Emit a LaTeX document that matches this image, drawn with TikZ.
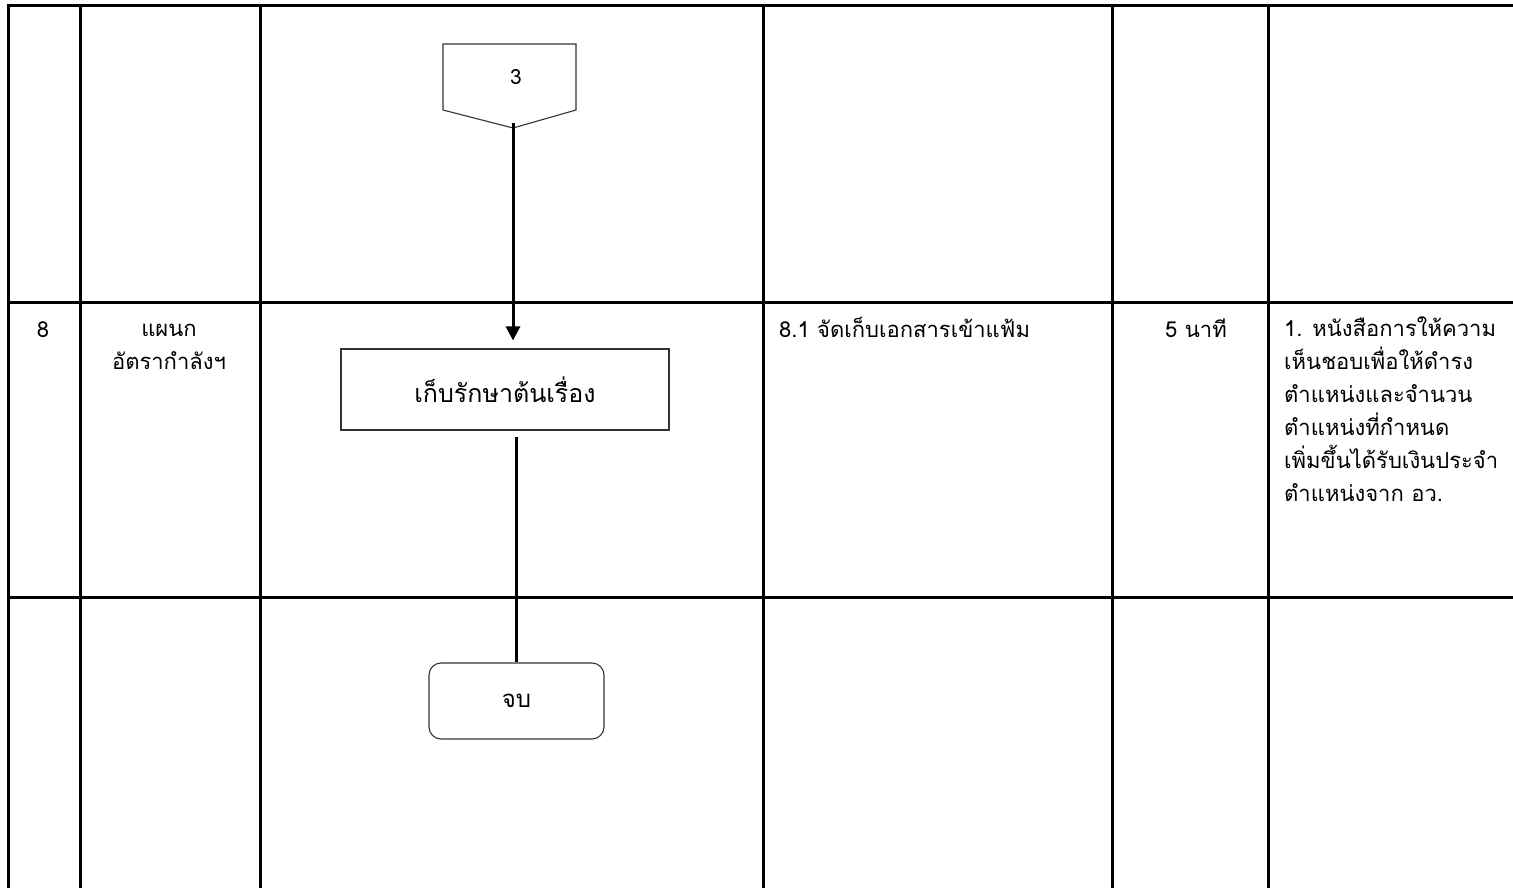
\documentclass[tikz,border=0pt]{standalone}
\usepackage{fontspec}
\newfontfamily\thaifont[Script=Thai]{Loma}
\usetikzlibrary{arrows.meta}
\newcommand{\firststrut}{\rule{0pt}{22pt}}
\begin{document}
\begin{tikzpicture}[x=1pt,y=-1pt,
  gridline/.style={line width=3pt},
  shapeline/.style={draw=black!80,line width=1.1pt},
  flow/.style={line width=3pt},
  txt/.style={font=\thaifont\fontsize{22}{30}\selectfont, inner sep=0pt},
  boxtxt/.style={font=\thaifont\fontsize{25}{30}\selectfont, inner sep=0pt}]
\useasboundingbox (0,0) rectangle (1513,888);
% table
\draw[gridline] (8,888) -- (8,6) -- (1513,6);
\foreach \x in {80,260,763,1112,1268} \draw[gridline] (\x,6) -- (\x,888);
\draw[gridline] (8,302) -- (1513,302);
\draw[gridline] (8,597) -- (1513,597);
% off-page connector
\draw[shapeline] (443,44) -- (576,44) -- (576,110) -- (513,128) -- (443,110) -- cycle;
\node[boxtxt,font=\thaifont\fontsize{21}{24}\selectfont] (conn) at (516,77) {3};
\coordinate (connbot) at (513,123);
% process box
\node[shapeline, boxtxt, minimum width=328pt, minimum height=81pt] (keep) at (505,389.5) {เก็บรักษาต้นเรื่อง};
% terminator
\node[shapeline, boxtxt, rounded corners=12pt, minimum width=175pt, minimum height=76pt, font=\thaifont\fontsize{24}{28}\selectfont] (finish) at (516.5,701) {จบ};
% connectors
\coordinate (tip) at ([yshift=8pt]keep.north -| connbot);
\draw[flow, -{Triangle[length=14pt,width=14pt]}] (connbot) -- (tip);
\coordinate (keepout) at ([yshift=-6pt]keep.south -| finish.north);
\draw[flow] (keepout) -- (finish.north);
% texts
\node[txt, anchor=base] (num) at (43,337) {8};
\node[txt, align=center, anchor=north] (dept) at (169,314) {\firststrut แผนก\\[3pt]อัตรากำลังฯ};
\node[txt, anchor=base west] (task) at (779,337) {8.1 จัดเก็บเอกสารเข้าแฟ้ม};
\node[txt, anchor=base] (time) at (1196,337) {5 นาที};
\node[txt, align=left, anchor=north west] (doc) at (1284,314) {\firststrut 1. หนังสือการให้ความ\\[3pt]เห็นชอบเพื่อให้ดำรง\\[3pt]ตำแหน่งและจำนวน\\[3pt]ตำแหน่งที่กำหนด\\[3pt]เพิ่มขึ้นได้รับเงินประจำ\\[3pt]ตำแหน่งจาก อว.};
\end{tikzpicture}
\end{document}
